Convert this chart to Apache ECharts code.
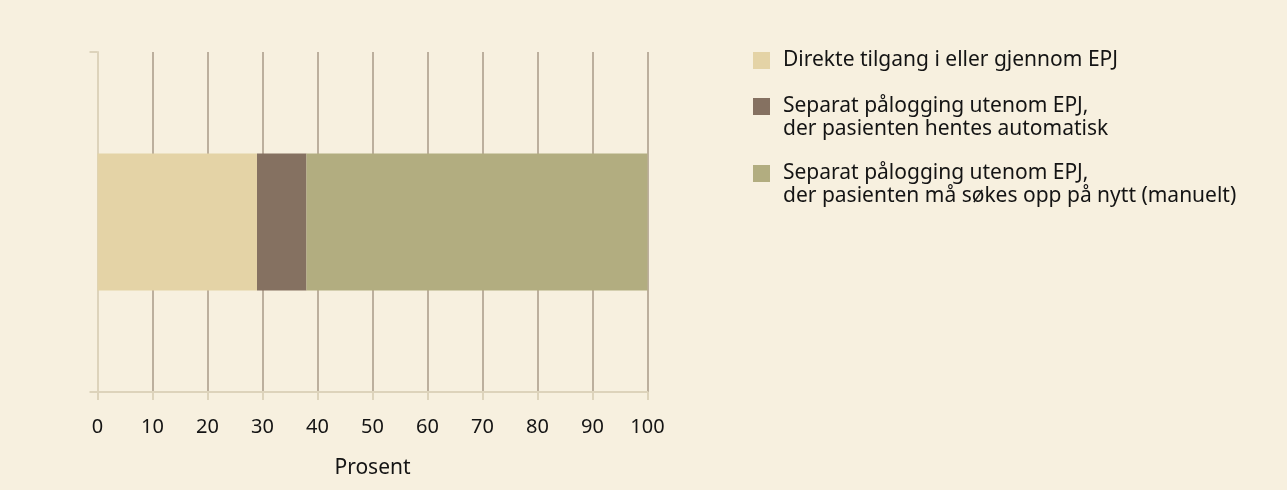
<!DOCTYPE html>
<html>
<head>
<meta charset="utf-8">
<script src="https://cdn.jsdelivr.net/npm/echarts@6/dist/echarts.min.js"></script>
<style>
  html, body { margin: 0; padding: 0; background: #f7f0df; }
  #c1 { width: 1287px; height: 490px; }
</style>
</head>
<body>
<div id="c1"></div>
<script>
  // data
  const categories = ['Alle']
  const seriesNames = [
    'Direkte tilgang i eller gjennom EPJ',
    'Separat pålogging utenom EPJ,\nder pasienten hentes automatisk',
    'Separat pålogging utenom EPJ,\nder pasienten må søkes opp på nytt (manuelt)'
  ]
  const direkte = [29]
  const automatisk = [9]
  const manuelt = [62]
  const xTicks = [0, 10, 20, 30, 40, 50, 60, 70, 80, 90, 100]

  const colors = ['#e4d3a6', '#857161', '#b2ad80']
  const font = 'Noto Sans'
  const textColor = '#141414'

  const myChart = echarts.init(document.getElementById('c1'))

  // legend text: icon sits on the first line, so add an empty line on top for two-line names
  const legendFormatter = (name) => {
    const lines = name.split('\n').map(l => '{a|' + l + '}')
    if (lines.length > 1) lines.unshift('{s| }')
    return lines.join('\n')
  }
  const legendBase = {
    orient: 'vertical',
    left: 753,
    padding: 0,
    itemWidth: 17,
    itemHeight: 17,
    itemGap: 0,
    selectedMode: false,
    icon: 'rect',
    formatter: legendFormatter,
    textStyle: {
      fontFamily: font,
      fontSize: 21,
      color: textColor,
      lineHeight: 23,
      rich: {
        a: { fontFamily: font, fontSize: 21, color: textColor, lineHeight: 23, padding: [0, 0, 0, 8] },
        s: { fontSize: 10, lineHeight: 23 }
      }
    }
  }

  const option = {
    backgroundColor: '#f7f0df',
    color: colors,
    textStyle: { fontFamily: font },
    grid: {
      left: 97.5,
      right: 639.5,
      top: 52,
      bottom: 98
    },
    legend: [
      Object.assign({}, legendBase, { top: 49, data: [seriesNames[0]] }),
      Object.assign({}, legendBase, { top: 72, data: [seriesNames[1]] }),
      Object.assign({}, legendBase, { top: 139, data: [seriesNames[2]] })
    ],
    xAxis: {
      type: 'value',
      min: xTicks[0],
      max: xTicks[xTicks.length - 1],
      interval: 10,
      name: 'Prosent',
      nameLocation: 'middle',
      nameGap: 66,
      nameTextStyle: { fontFamily: font, fontSize: 21, color: textColor },
      axisLine: { show: true, lineStyle: { color: '#ddd3bb', width: 2 } },
      axisTick: { show: true, length: 8, lineStyle: { color: '#ddd3bb', width: 2 } },
      axisLabel: { margin: 25, fontFamily: font, fontSize: 20, color: textColor },
      splitLine: { show: true, lineStyle: { color: '#a89a87', width: 1.5 } }
    },
    yAxis: {
      type: 'category',
      data: categories,
      axisLine: { show: true, lineStyle: { color: '#ddd3bb', width: 2 } },
      axisTick: { show: true, length: 8, lineStyle: { color: '#ddd3bb', width: 2 } },
      axisLabel: { show: false },
      splitLine: { show: false }
    },
    series: [
      { name: seriesNames[0], type: 'bar', stack: 'total', barWidth: 137, data: direkte },
      { name: seriesNames[1], type: 'bar', stack: 'total', barWidth: 137, data: automatisk },
      { name: seriesNames[2], type: 'bar', stack: 'total', barWidth: 137, data: manuelt }
    ]
  }
  option && myChart.setOption(option)
</script>
</body>
</html>
